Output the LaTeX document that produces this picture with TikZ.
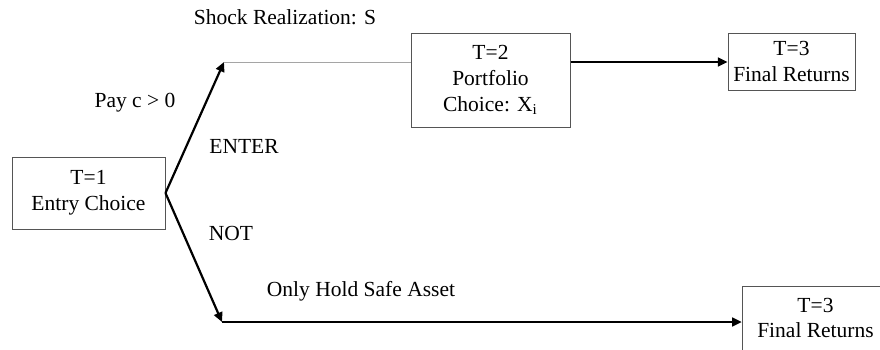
\documentclass[tikz,border=0pt]{standalone}
\usepackage{fontspec}
\setmainfont{Liberation Serif}
\usetikzlibrary{arrows.meta,positioning}
\definecolor{boxgray}{RGB}{85,85,85}
\definecolor{linegray}{RGB}{165,165,165}

\begin{document}
\begin{tikzpicture}[x=0.5pt,y=-0.5pt,
  font=\fontsize{10.75}{12.9}\selectfont,
  stagebox/.style={draw=boxgray,line width=0.5pt,align=center,inner sep=0pt},
  branch/.style={line width=1.1pt,-{Triangle[length=4.8pt,width=4.4pt]}}]
  \useasboundingbox (0,0) rectangle (880,349);
  % stages
  \node[stagebox,minimum width=76.5pt,minimum height=36pt] (entry) at (88.5,193) {T=1\\Entry Choice};
  \node[stagebox,minimum width=79.5pt,minimum height=47pt] (portfolio) at (490.5,80) {T=2\\Portfolio\\Choice: X\textsubscript{i}};
  \node[stagebox,minimum width=63.5pt,minimum height=28.5pt] (final) at (791.5,61.5) {T=3\\Final Returns};
  \node[stagebox,minimum width=74pt,minimum height=45pt,anchor=north west] (finalsafe) at (741.7,286) {};
  \node[align=center] (finalsafetxt) at (815.5,318) {T=3\\Final Returns};
  % labels
  \node (shock) at (285,17) {Shock Realization: S};
  \node (pay) at (135,103) {Pay c > 0};
  \node (enter) at (244,146) {ENTER};
  \node (notenter) at (231,233) {NOT};
  \node (safe) at (361,291) {Only Hold Safe Asset};
  % branches
  \coordinate (up) at (224,62);
  \coordinate (low) at (222,322);
  \draw[branch] (entry.east) -- (up);
  \draw[linegray,line width=0.5pt] (up) -- (portfolio.west |- up);
  \draw[branch] (portfolio.east |- up) -- (final.west |- up);
  \draw[branch] (entry.east) -- (low);
  \draw[branch] (low) -- (finalsafe.west |- low);
\end{tikzpicture}
\end{document}
